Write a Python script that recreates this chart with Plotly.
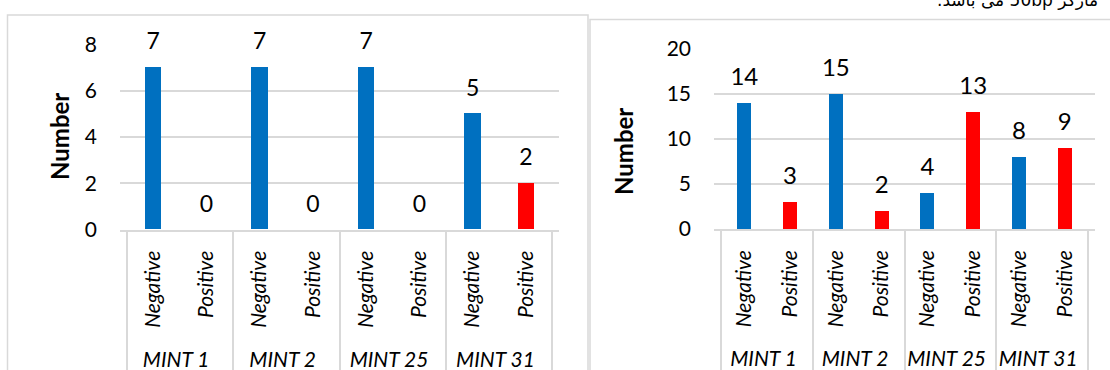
import plotly.graph_objects as go

groups = ["MINT 1", "MINT 2", "MINT 25", "MINT 31"]
results = ["Negative", "Positive"]

left_negative = [7, 7, 7, 5]
left_positive = [0, 0, 0, 2]
right_negative = [14, 15, 4, 8]
right_positive = [3, 2, 13, 9]

left_ticks = [0, 2, 4, 6, 8]
right_ticks = [0, 5, 10, 15, 20]

note_text = "مارکر 50bp می باشد."

COLORS = {"Negative": "#0070C0", "Positive": "#FF0000"}
GRID = "#d9d9d9"
FONT = "Lato"
W, H = 1110, 370
PAD = "\u00a0" * 2  # spacing so the group labels sit lower, as in the reference


def build_series(neg, pos):
    outer, inner, vals, cols = [], [], [], []
    for g, n, p in zip(groups, neg, pos):
        for r, v in zip(results, (n, p)):
            outer.append(g)
            inner.append(PAD + r)
            vals.append(v)
            cols.append(COLORS[r])
    return outer, inner, vals, cols


fig = go.Figure()

panels = [
    (left_negative, left_positive, "x", "y", 23),
    (right_negative, right_positive, "x2", "y2", 24),
]
for neg, pos, xa, ya, lab_size in panels:
    outer, inner, vals, cols = build_series(neg, pos)
    fig.add_trace(go.Bar(
        x=[outer, inner], y=vals, xaxis=xa, yaxis=ya,
        marker=dict(color=cols, line=dict(width=0)),
        width=0.31, showlegend=False, hoverinfo="skip",
    ))
    fig.add_trace(go.Scatter(
        x=[outer, inner], y=vals, xaxis=xa, yaxis=ya,
        mode="markers+text", text=[str(v) for v in vals],
        textposition="top center",
        textfont=dict(family=FONT, size=lab_size, color="#000000"),
        marker=dict(size=18, color="rgba(0,0,0,0)", line=dict(width=0)),
        cliponaxis=False, showlegend=False, hoverinfo="skip",
    ))


def px_x(v):
    return v / W


def px_y(v):
    return 1 - v / H


xcommon = dict(
    type="multicategory", tickangle=-90,
    tickfont=dict(family=FONT, size=21, color="#000000", style="italic"),
    showdividers=True, dividercolor=GRID, dividerwidth=1.5,
    showline=True, linecolor=GRID, linewidth=1.5,
    showgrid=False, zeroline=False, ticks="", ticklabelstandoff=11,
    automargin=False, fixedrange=True,
)
ycommon = dict(
    showgrid=True, gridcolor=GRID, gridwidth=1.5,
    showline=False, zeroline=False, ticks="",
    tickfont=dict(family=FONT, size=21, color="#000000"),
    ticklabelstandoff=22, automargin=False, fixedrange=True,
)

fig.update_layout(
    width=W, height=H, template="none",
    margin=dict(l=0, r=0, t=0, b=0),
    paper_bgcolor="#ffffff", plot_bgcolor="#ffffff",
    bargap=0, showlegend=False,
    xaxis=dict(domain=[px_x(120), px_x(559)], anchor="y", **xcommon),
    yaxis=dict(domain=[px_y(229.6), px_y(44.3)], anchor="x",
               range=[0, 8], tickvals=left_ticks, **ycommon),
    xaxis2=dict(domain=[px_x(714), px_x(1095)], anchor="y2", **xcommon),
    yaxis2=dict(domain=[px_y(229), px_y(49)], anchor="x2",
                range=[0, 20], tickvals=right_ticks, **ycommon),
    shapes=[
        dict(type="rect", xref="paper", yref="paper",
             x0=px_x(7.5), x1=px_x(588), y0=-0.2, y1=px_y(15),
             line=dict(color=GRID, width=1.5), fillcolor="rgba(0,0,0,0)", layer="below"),
        dict(type="rect", xref="paper", yref="paper",
             x0=px_x(590), x1=1.2, y0=-0.2, y1=px_y(19.5),
             line=dict(color=GRID, width=1.5), fillcolor="rgba(0,0,0,0)", layer="below"),
    ],
    annotations=[
        dict(text="<b>Number</b>", xref="paper", yref="paper",
             x=px_x(59), y=px_y(137), textangle=-90, showarrow=False,
             font=dict(family=FONT, size=24, color="#000000"),
             xanchor="center", yanchor="middle"),
        dict(text="<b>Number</b>", xref="paper", yref="paper",
             x=px_x(623), y=px_y(152), textangle=-90, showarrow=False,
             font=dict(family=FONT, size=24, color="#000000"),
             xanchor="center", yanchor="middle"),
        dict(text="\u202b" + note_text + "\u202c", xref="paper", yref="paper",
             x=px_x(1100), y=px_y(12), showarrow=False,
             font=dict(family="DejaVu Sans", size=17, color="#000000"),
             xanchor="right", yanchor="bottom"),
    ],
)

fig.write_html("out.html")
